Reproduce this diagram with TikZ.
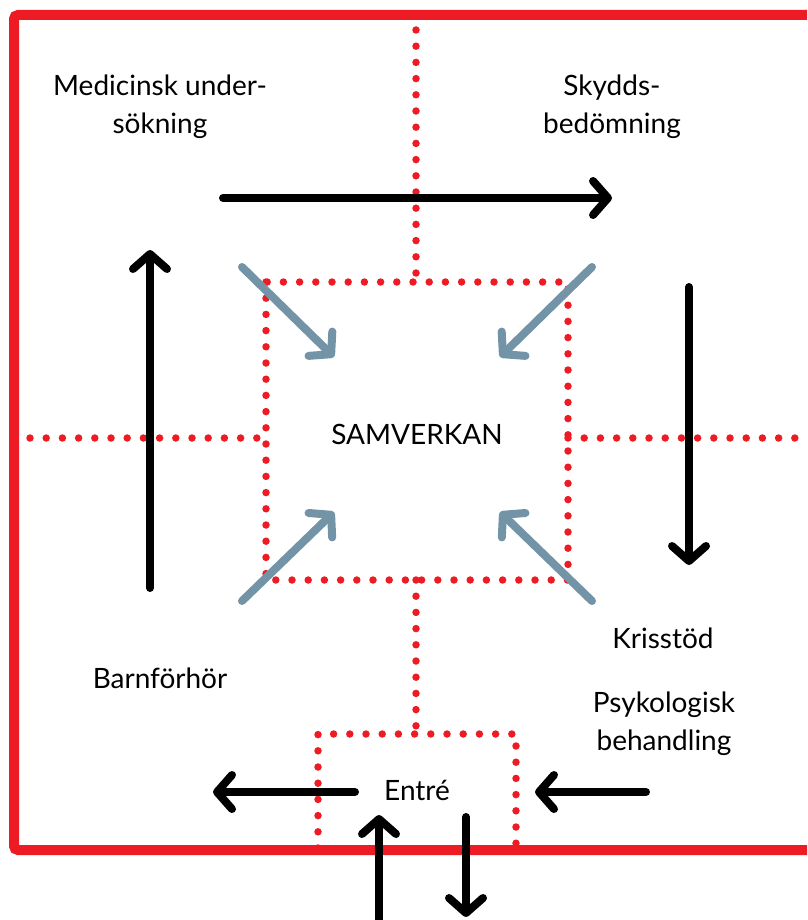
\documentclass[tikz,border=0pt]{standalone}
\usepackage{fontspec}
\setmainfont{Lato}
\usetikzlibrary{arrows.meta}
\definecolor{bred}{HTML}{ED1C24}
\definecolor{sgrey}{HTML}{7393A7}
\begin{document}
\begin{tikzpicture}[x=1pt,y=-1pt,
  lbl/.style={font=\fontsize{28}{38}\selectfont, inner sep=0pt, align=center, anchor=base},
  dots/.style={draw=bred, line width=7.5pt, line cap=round, dash pattern=on 0pt off 16.2pt},
  barb/.style={-{Straight Barb[length=15pt,width=34pt,round]}, line width=8pt, line cap=round},
  blk/.style={barb, draw=black},
  gry/.style={barb, draw=sgrey}]
\useasboundingbox (0,0) rectangle (807,920);
\begin{scope}
\clip (0,0) rectangle (807,920);
% outer border (right side lies outside the picture)
\draw[bred, line width=10pt, rounded corners=4pt] (14,15) rectangle (830,850);
% dotted partitions
\draw[dots] (266,282) rectangle (568,580);
\draw[dots] (416,30) -- (416,282);
\draw[dots] (30,438) -- (266,438);
\draw[dots] (568,438) -- (797,438);
\draw[dots] (416,580) -- (416,734);
\draw[dots] (318,848) -- (318,734) -- (516,734) -- (516,848);
\end{scope}
% labels (multi-line labels are placed by their last baseline)
\node[lbl] (med) at (160,134) {Medicinsk under-\\sökning};
\node[lbl] (sky) at (612,134) {Skydds-\\bedömning};
\node[lbl] (sam) at (417,444) {SAMVERKAN};
\node[lbl] (barn) at (160,688) {Barnförhör};
\node[lbl] (kris) at (663,648) {Krisstöd};
\node[lbl] (psy) at (664,750) {Psykologisk\\behandling};
\node[lbl] (ent) at (417,800) {Entré};
% arrow end points
\coordinate (t1) at (223,198); \coordinate (t2) at (612,198);
\coordinate (l1) at (150,588); \coordinate (l2) at (150,250);
\coordinate (r1) at (689,287); \coordinate (r2) at (689,565);
\coordinate (e1) at (355,792); \coordinate (e2) at (213,792);
\coordinate (f1) at (646,792); \coordinate (f2) at (535,792);
\coordinate (u1) at (379,930); \coordinate (u2) at (379,815);
\coordinate (d1) at (466,817); \coordinate (d2) at (466,917);
\coordinate (g1) at (242,267); \coordinate (g2) at (334,357);
\coordinate (h1) at (592,267); \coordinate (h2) at (500,357);
\coordinate (i1) at (242,601); \coordinate (i2) at (334,512);
\coordinate (j1) at (592,601); \coordinate (j2) at (500,512);
% black arrows
\draw[blk] (t1) -- (t2);
\draw[blk] (l1) -- (l2);
\draw[blk] (r1) -- (r2);
\draw[blk] (e1) -- (e2);
\draw[blk] (f1) -- (f2);
\draw[blk] (u1) -- (u2);
\draw[blk] (d1) -- (d2);
% grey arrows
\draw[gry] (g1) -- (g2);
\draw[gry] (h1) -- (h2);
\draw[gry] (i1) -- (i2);
\draw[gry] (j1) -- (j2);
\end{tikzpicture}
\end{document}
